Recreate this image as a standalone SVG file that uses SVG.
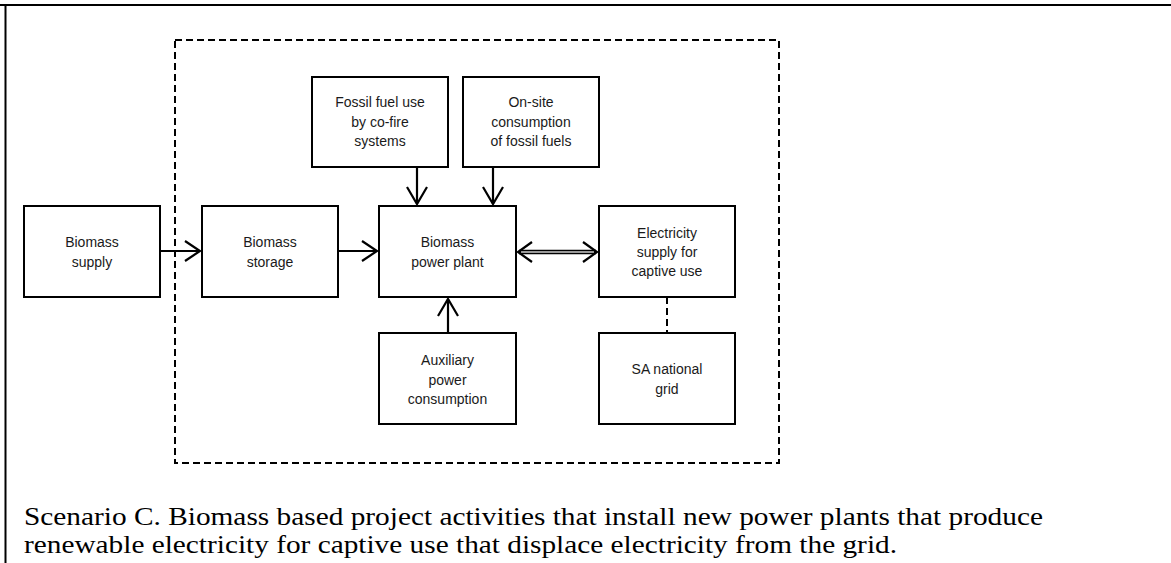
<svg xmlns="http://www.w3.org/2000/svg" width="1171" height="563" viewBox="0 0 1171 563">
<style>
.box{fill:#fff;stroke:#000;stroke-width:2}
.lbl{font-family:"Liberation Sans",Arial,sans-serif;font-size:14px;fill:#1a1a1a;text-anchor:middle}
.ln{fill:none;stroke:#000;stroke-width:2.2}
.dash{fill:none;stroke:#000;stroke-width:2;stroke-dasharray:7 4}
.cap{font-family:"Liberation Serif","Times New Roman",serif;font-size:26px;fill:#000}
</style>
<rect width="1171" height="563" fill="#fff"/>
<g id="frame">
<line x1="0" y1="5" x2="1171" y2="5" stroke="#000" stroke-width="2.2"/>
<line x1="5.5" y1="5" x2="5.5" y2="563" stroke="#000" stroke-width="2"/>
</g>
<g id="boundary">
<rect class="dash" x="175" y="40" width="604" height="423"/>
</g>
<g id="connectors">
<line class="ln" x1="160" y1="251" x2="200" y2="251"/>
<polyline class="ln" points="185,241 200,251 185,261"/>
<line class="ln" x1="338" y1="251" x2="377" y2="251"/>
<polyline class="ln" points="362,241 377,251 362,261"/>
<line class="ln" x1="417" y1="167" x2="417" y2="204"/>
<polyline class="ln" points="407,187 417,204 427,187"/>
<line class="ln" x1="493" y1="167" x2="493" y2="204"/>
<polyline class="ln" points="483,187 493,204 503,187"/>
<line class="ln" x1="448" y1="333" x2="448" y2="299"/>
<polyline class="ln" points="438,316 448,299 458,316"/>
<line x1="519" y1="252" x2="596" y2="252" stroke="#000" stroke-width="4.5"/>
<line x1="521" y1="252" x2="594" y2="252" stroke="#ccc" stroke-width="1.5"/>
<polyline class="ln" points="532,242 518,252 532,262"/>
<polyline class="ln" points="583,242 597,252 583,262"/>
<line class="dash" x1="667" y1="297" x2="667" y2="333" stroke-dasharray="6 4"/>
</g>
<g id="biomass-supply">
<rect class="box" x="24" y="206" width="136" height="91"/>
<text class="lbl" x="92" y="247">Biomass</text>
<text class="lbl" x="92" y="267">supply</text>
</g>
<g id="biomass-storage">
<rect class="box" x="202" y="206" width="136" height="91"/>
<text class="lbl" x="270" y="247">Biomass</text>
<text class="lbl" x="270" y="267">storage</text>
</g>
<g id="biomass-power-plant">
<rect class="box" x="379" y="206" width="137" height="91"/>
<text class="lbl" x="447.5" y="247">Biomass</text>
<text class="lbl" x="447.5" y="267">power plant</text>
</g>
<g id="fossil-cofire">
<rect class="box" x="312" y="77" width="136" height="90"/>
<text class="lbl" x="380" y="107">Fossil fuel use</text>
<text class="lbl" x="380" y="127">by co-fire</text>
<text class="lbl" x="380" y="146">systems</text>
</g>
<g id="onsite-fossil">
<rect class="box" x="463" y="77" width="136" height="90"/>
<text class="lbl" x="531" y="107">On-site</text>
<text class="lbl" x="531" y="127">consumption</text>
<text class="lbl" x="531" y="146">of fossil fuels</text>
</g>
<g id="electricity-supply">
<rect class="box" x="599" y="206" width="136" height="91"/>
<text class="lbl" x="667" y="238">Electricity</text>
<text class="lbl" x="667" y="257">supply for</text>
<text class="lbl" x="667" y="276">captive use</text>
</g>
<g id="auxiliary-power">
<rect class="box" x="379" y="333" width="137" height="91"/>
<text class="lbl" x="447.5" y="365">Auxiliary</text>
<text class="lbl" x="447.5" y="385">power</text>
<text class="lbl" x="447.5" y="404">consumption</text>
</g>
<g id="sa-national-grid">
<rect class="box" x="599" y="333" width="136" height="91"/>
<text class="lbl" x="667" y="374">SA national</text>
<text class="lbl" x="667" y="394">grid</text>
</g>
<g id="caption">
<text class="cap" x="24" y="525" textLength="1019" lengthAdjust="spacingAndGlyphs">Scenario C. Biomass based project activities that install new power plants that produce</text>
<text class="cap" x="24" y="553" textLength="873" lengthAdjust="spacingAndGlyphs">renewable electricity for captive use that displace electricity from the grid.</text>
</g>
</svg>
